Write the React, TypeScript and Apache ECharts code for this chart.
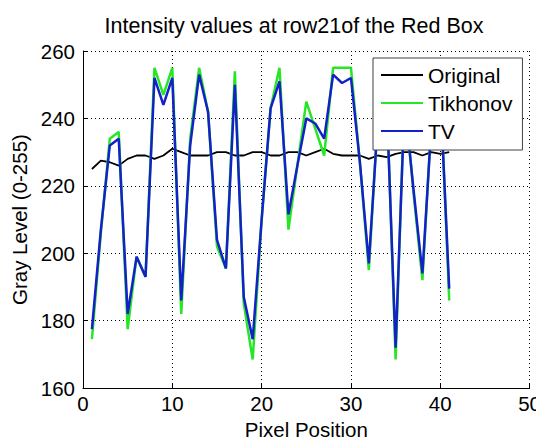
import React, { useEffect, useRef } from "react";
import * as echarts from "echarts";

const titleText = "Intensity values at row21of the Red Box";
const xName = "Pixel Position";
const yName = "Gray Level (0-255)";
const seriesNames = ["Original", "Tikhonov", "TV"];

const pixels = [
  1, 2, 3, 4, 5, 6, 7, 8, 9, 10, 11, 12, 13, 14, 15, 16, 17, 18, 19, 20, 21,
  22, 23, 24, 25, 26, 27, 28, 29, 30, 31, 32, 33, 34, 35, 36, 37, 38, 39, 40, 41,
];

const original = [
  225, 227.5, 227, 226, 228, 229, 229, 228, 229, 231, 230, 229, 229, 229, 230,
  230, 229, 229, 230, 230, 229, 229, 230, 230, 229, 230, 231, 229.5, 229, 229,
  229, 228, 229, 228.5, 229.5, 230, 230, 229, 230, 229.5, 230,
];

const tikhonov = [
  174.5, 206, 234, 236, 177.5, 199, 193, 255, 247, 255, 182, 234, 255, 242, 202,
  195.5, 254, 185, 168.5, 210, 243, 255, 207, 226, 245, 237, 229, 255, 255, 255,
  227, 195, 240, 247, 168.5, 247, 218, 192, 239, 250, 186,
];

const tv = [
  177.5, 207, 232, 234, 182, 199, 193, 252, 244, 252, 186, 232, 253, 242, 204,
  195.5, 250, 187, 174.5, 210, 243, 251, 211.5, 226, 240, 238.5, 234, 253, 250.5,
  252, 227, 197, 239, 245, 172, 245, 219, 194, 238, 248, 189.5,
];

const colors = ["#000000", "#26e626", "#1420c8"];
const widths = [1.8, 2.5, 2.5];

const FONT = "'Liberation Sans', Arial, Helvetica, sans-serif";

export default function App() {
  const ref = useRef<HTMLDivElement>(null);

  useEffect(() => {
    if (!ref.current) return;
    const chart = echarts.init(ref.current, null, { renderer: "svg" });
    const all = [original, tikhonov, tv];
    const option = {
      animation: false,
      backgroundColor: "#ffffff",
      title: {
        text: titleText,
        left: 294,
        top: 15,
        textAlign: "center",
        padding: 0,
        textStyle: {
          fontFamily: FONT,
          fontSize: 21.5,
          fontWeight: "normal",
          color: "#000",
        },
      },
      legend: {
        orient: "vertical",
        left: 373,
        top: 58,
        z: 20,
        padding: [5, 10, 7, 8],
        icon: "rect",
        itemWidth: 42,
        itemHeight: 2,
        itemGap: 4,
        backgroundColor: "#ffffff",
        borderColor: "#404040",
        borderWidth: 1,
        itemStyle: { borderWidth: 0 },
        textStyle: {
          fontFamily: FONT,
          fontSize: 21,
          lineHeight: 24,
          color: "#000",
        },
        data: seriesNames,
      },
      grid: { left: 83, right: 14, top: 51, bottom: 52, containLabel: false },
      xAxis: {
        type: "value",
        min: 0,
        max: 50,
        interval: 10,
        name: xName,
        nameLocation: "middle",
        nameGap: 29,
        nameTextStyle: { fontFamily: FONT, fontSize: 20.5, color: "#000" },
        axisLine: { show: true, lineStyle: { color: "#000", width: 1 } },
        axisTick: { show: true, inside: true, length: 5, lineStyle: { color: "#000" } },
        axisLabel: { fontFamily: FONT, fontSize: 20.5, color: "#000", margin: 5 },
        splitLine: {
          show: true,
          lineStyle: { color: "#000", width: 1, type: [1, 3] },
        },
      },
      yAxis: {
        type: "value",
        min: 160,
        max: 260,
        interval: 20,
        name: yName,
        nameLocation: "middle",
        nameGap: 50,
        nameTextStyle: { fontFamily: FONT, fontSize: 20.5, color: "#000" },
        axisLine: { show: true, lineStyle: { color: "#000", width: 1 } },
        axisTick: { show: true, inside: true, length: 5, lineStyle: { color: "#000" } },
        axisLabel: { fontFamily: FONT, fontSize: 20.5, color: "#000", margin: 8 },
        splitLine: {
          show: true,
          lineStyle: { color: "#000", width: 1, type: [1, 3] },
        },
      },
      series: seriesNames.map((name, i) => ({
        name,
        type: "line",
        data: pixels.map((x, j) => [x, all[i][j]]),
        symbol: "none",
        showSymbol: false,
        color: colors[i],
        lineStyle: { color: colors[i], width: widths[i] },
        itemStyle: { color: colors[i] },
        z: 2,
        zlevel: 0,
      })),
    };
    chart.setOption(option as any);
    return () => chart.dispose();
  }, []);

  return <div ref={ref} style={{ width: 544, height: 445, margin: -8 }} />;
}
